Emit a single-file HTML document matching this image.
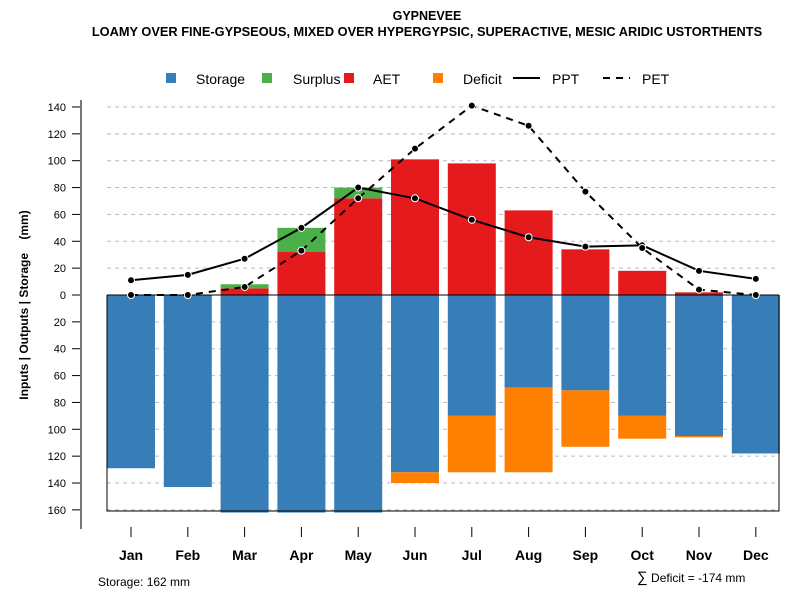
<!DOCTYPE html>
<html><head><meta charset="utf-8"><style>body{margin:0;background:#fff}svg{font-family:"Liberation Sans",sans-serif}</style></head><body>
<svg id="c" width="800" height="600" xmlns="http://www.w3.org/2000/svg">
<text x="427" y="20" text-anchor="middle" font-size="12.5" font-weight="bold">GYPNEVEE</text>
<text x="427" y="36" text-anchor="middle" font-size="12.8" font-weight="bold">LOAMY OVER FINE-GYPSEOUS, MIXED OVER HYPERGYPSIC, SUPERACTIVE, MESIC ARIDIC USTORTHENTS</text>
<g font-size="14">
<rect x="166" y="73" width="10" height="10" fill="#377eb8"/><text x="196" y="84">Storage</text>
<rect x="262" y="73" width="10" height="10" fill="#4daf4a"/><text x="293" y="84">Surplus</text>
<rect x="344" y="73" width="10" height="10" fill="#e41a1c"/><text x="373" y="84">AET</text>
<rect x="433" y="73" width="10" height="10" fill="#ff7f00"/><text x="463" y="84">Deficit</text>
<line x1="513" y1="78" x2="540" y2="78" stroke="#000" stroke-width="2"/><text x="552" y="84">PPT</text>
<line x1="603" y1="78" x2="630" y2="78" stroke="#000" stroke-width="2" stroke-dasharray="7,6"/><text x="642" y="84">PET</text>
</g>
<text transform="translate(28,305) rotate(-90)" text-anchor="middle" font-size="12" font-weight="bold" xml:space="preserve">Inputs | Outputs | Storage    (mm)</text>
<text x="98" y="586" font-size="12">Storage: 162 mm</text>
<text x="637" y="582" font-size="12"><tspan font-size="15">∑</tspan> Deficit = -174 mm</text>
<g id="grid"></g><g id="bars"></g><g id="axes"></g><g id="lines"></g>
</svg>
<script>
const months=["Jan","Feb","Mar","Apr","May","Jun","Jul","Aug","Sep","Oct","Nov","Dec"];
const storage=[129,143,162,162,162,132,90,69,71,90,105,118];
const deficit=[0,0,0,0,0,8,42,63,42,17,1,0];
const aet=[0,0,5,32,72,101,98,63,34,18,2,0];
const surplus=[0,0,3,18,8,0,0,0,0,0,0,0];
const ppt=[11,15,27,50,80,72,56,43,36,37,18,12];
const pet=[0,0,6,33,72,109,141,126,77,35,4,0];
const yTicks=[140,120,100,80,60,40,20,0,-20,-40,-60,-80,-100,-120,-140,-160];
const NS="http://www.w3.org/2000/svg";
const y=v=>295-v*1.343;
const x=i=>131+i*56.8;
const bw=48;
function mk(p,t,a){const e=document.createElementNS(NS,t);for(const k in a)e.setAttribute(k,a[k]);document.getElementById(p).appendChild(e);return e;}
yTicks.forEach(t=>{
 const g=mk('grid','line',{x1:107,x2:779,y1:y(t),y2:y(t),stroke:'#bbb','stroke-dasharray':'4,4'});
 
 
 const tk=mk('axes','line',{x1:72,x2:81,y1:y(t),y2:y(t),stroke:'#000'});
 
 
 const l=mk('axes','text',{x:66,y:y(t)+4,'text-anchor':'end','font-size':11});
 l.textContent=Math.abs(t);
 
 
});
months.forEach((m,i)=>{
 const cx=x(i),L=cx-bw/2;
 const s=mk('bars','rect',{x:L,y:y(0),width:bw,height:y(-storage[i])-y(0),fill:'#377eb8'});
 
 
 if(deficit[i]>0){const d=mk('bars','rect',{x:L,y:y(-storage[i]),width:bw,height:y(-storage[i]-deficit[i])-y(-storage[i]),fill:'#ff7f00'});
 
 }
 if(aet[i]>0){const a=mk('bars','rect',{x:L,y:y(aet[i]),width:bw,height:y(0)-y(aet[i]),fill:'#e41a1c'});
 
 }
 if(surplus[i]>0){const u=mk('bars','rect',{x:L,y:y(aet[i]+surplus[i]),width:bw,height:y(aet[i])-y(aet[i]+surplus[i]),fill:'#4daf4a'});
 
 }
 const tk=mk('axes','line',{x1:cx,x2:cx,y1:527,y2:537,stroke:'#000'});
 
 
 const t=mk('axes','text',{x:cx,y:560,'text-anchor':'middle','font-size':14,'font-weight':'bold'});
 t.textContent=m;
 
 
});
const box=mk('axes','path',{d:`M107 ${y(0)} V511 H779 V${y(0)}`,fill:'none',stroke:'#000'});


const zl=mk('axes','line',{x1:107,x2:779,y1:y(0),y2:y(0),stroke:'#000'});


const ya=mk('axes','line',{x1:81,x2:81,y1:100,y2:529,stroke:'#777','stroke-width':2});


[[ppt,null,'ppt'],[pet,'7,6','pet']].forEach(([arr,da,n])=>{
 const p=mk('lines','polyline',{points:arr.map((v,i)=>x(i)+','+y(v)).join(' '),fill:'none',stroke:'#000','stroke-width':2});
 if(da)p.setAttribute('stroke-dasharray',da);
 
 
 arr.forEach((v,i)=>{const c=mk('lines','circle',{cx:x(i),cy:y(v),r:3.5,fill:'#000',stroke:'#fff','stroke-width':1});
 
 });
});
</script>
</body></html>
